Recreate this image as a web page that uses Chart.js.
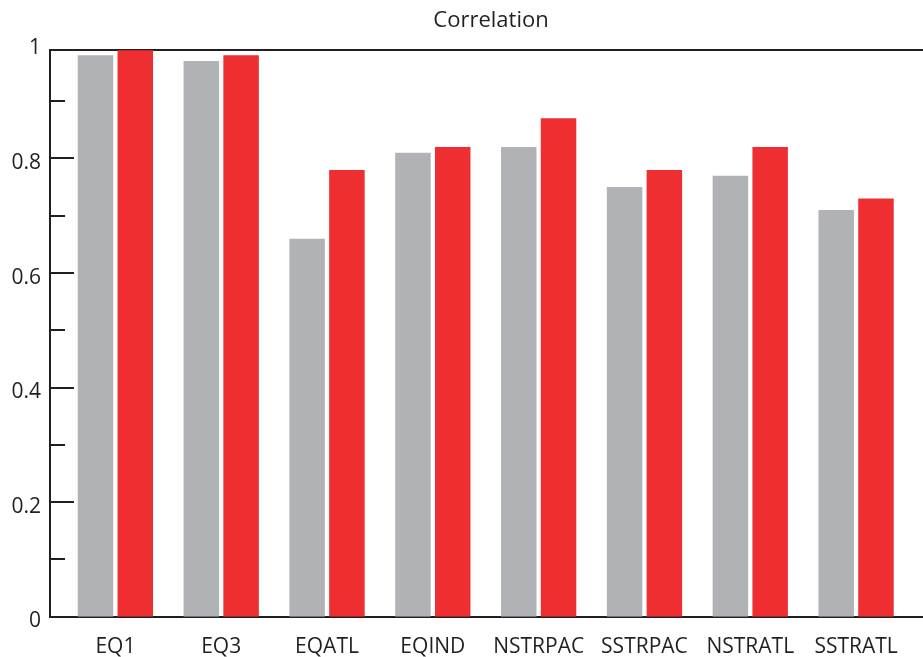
<!DOCTYPE html>
<html>
<head>
<meta charset="utf-8">
<script src="https://cdn.jsdelivr.net/npm/chart.js@4/dist/chart.umd.min.js"></script>
<style>
  html, body { margin: 0; padding: 0; background: #ffffff; overflow: hidden; }
  #wrap { width: 923px; height: 657px; overflow: hidden; position: relative; }
  canvas { display: block; }
</style>
</head>
<body>
<div id="wrap"><canvas id="c" width="982" height="657"></canvas></div>
<script>
// ---- data ----
const categories = ['EQ1', 'EQ3', 'EQATL', 'EQIND', 'NSTRPAC', 'SSTRPAC', 'NSTRATL', 'SSTRATL'];
const grayValues = [0.98, 0.97, 0.66, 0.81, 0.82, 0.75, 0.77, 0.71];
const redValues  = [1.00, 0.98, 0.78, 0.82, 0.87, 0.78, 0.82, 0.73];
const yTickLabels = [0, 0.2, 0.4, 0.6, 0.8, 1];
const majorTickMarks = [0.2, 0.4, 0.6, 0.8];
const minorTickMarks = [0.1, 0.3, 0.5, 0.7, 0.9];
const titleText = 'Correlation';

const TEXT = '#231f20';
const FONT = "'Open Sans', 'Noto Sans', sans-serif";

const innerTicks = {
  id: 'innerTicks',
  afterDraw(chart) {
    const y = chart.scales.y;
    const left = chart.chartArea.left;
    const ctx = chart.ctx;
    ctx.save();
    ctx.strokeStyle = TEXT;
    ctx.lineWidth = 2;
    const draw = (v, len) => {
      const py = Math.round(y.getPixelForValue(v));
      ctx.beginPath();
      ctx.moveTo(left, py);
      ctx.lineTo(left + len, py);
      ctx.stroke();
    };
    majorTickMarks.forEach(v => draw(v, 24));
    minorTickMarks.forEach(v => draw(v, 15));
    ctx.restore();
  }
};

new Chart(document.getElementById('c'), {
  type: 'bar',
  data: {
    datasets: [
      {
        label: 'A',
        data: grayValues.map((v, i) => ({ x: i, y: v })),
        backgroundColor: '#b1b2b6',
        borderWidth: 0
      },
      {
        label: 'B',
        data: redValues.map((v, i) => ({ x: i, y: v })),
        backgroundColor: '#ee2e31',
        borderWidth: 0
      }
    ]
  },
  options: {
    responsive: false,
    animation: false,
    events: [],
    layout: { padding: 0 },
    datasets: { bar: { categoryPercentage: 0.752, barPercentage: 0.892 } },
    plugins: {
      legend: { display: false },
      tooltip: { enabled: false },
      title: {
        display: true,
        text: titleText,
        color: TEXT,
        font: { family: FONT, size: 22, weight: 'normal' },
        padding: { top: 8, bottom: 0 }
      }
    },
    scales: {
      x: {
        type: 'linear',
        position: 'bottom',
        offset: false,
        min: -0.618,
        max: 8.19,
        afterBuildTicks: s => { s.ticks = categories.map((c, i) => ({ value: i })); },
        afterFit: s => { s.height = 40.3; },
        grid: { display: false, drawTicks: false, offset: false },
        border: { display: true, color: TEXT, width: 2 },
        ticks: {
          autoSkip: false,
          maxRotation: 0,
          padding: 18,
          color: TEXT,
          font: { family: FONT, size: 21 },
          callback: v => categories[v] !== undefined ? categories[v] : ''
        }
      },
      x2: {
        type: 'linear',
        position: 'top',
        offset: false,
        min: 0,
        max: 1,
        afterFit: s => { s.height = 15.8; },
        grid: { display: false, drawTicks: false },
        border: { display: true, color: TEXT, width: 2 },
        ticks: { display: false }
      },
      y: {
        type: 'linear',
        position: 'left',
        min: 0,
        max: 0.989,
        afterBuildTicks: s => { s.ticks = yTickLabels.map(v => ({ value: v })); },
        afterFit: s => { s.width = 50; },
        grid: { display: false, drawTicks: false },
        border: { display: true, color: TEXT, width: 2 },
        ticks: {
          padding: 9,
          labelOffset: 4.5,
          color: TEXT,
          font: { family: FONT, size: 21 },
          callback: v => String(Number(v.toFixed(2)))
        }
      }
    }
  },
  plugins: [innerTicks]
});
</script>
</body>
</html>
